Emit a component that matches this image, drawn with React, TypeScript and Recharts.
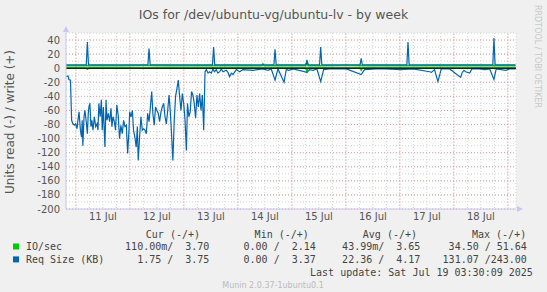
import React from "react";
import {
  ComposedChart,
  Line,
  XAxis,
  YAxis,
  CartesianGrid,
  ReferenceLine,
} from "recharts";

// hours since 11 Jul 00:00
const hourTicks = [0, 6, 12, 18, 24, 30, 36, 42, 48, 54, 60, 66, 72, 78, 84, 90, 96, 102, 108, 114, 120, 126, 132, 138, 144, 150, 156, 162, 168, 174, 180, 186, 192];
const dayTicks = [0, 24, 48, 72, 96, 120, 144, 168, 192];
const dayLabels = ["11 Jul", "12 Jul", "13 Jul", "14 Jul", "15 Jul", "16 Jul", "17 Jul", "18 Jul"];
const yTicks = [-200, -190, -180, -170, -160, -150, -140, -130, -120, -110, -100, -90, -80, -70, -60, -50, -40, -30, -20, -10, 0, 10, 20, 30, 40, 50];
const yMajor = [-200, -180, -160, -140, -120, -100, -80, -60, -40, -20, 20, 40];

// Req Size (KB), read side (drawn negative)
const reqReadHours = [
  -4.3, -3.5, -3.1, -2.4, -1.9, -1.3, -0.6, -0.1, 0.5, 0.9, 1.4, 2.0, 2.5, 2.8, 3.1, 3.6, 4.0, 4.6, 5.1, 5.5,
  5.8, 6.2, 6.7, 7.1, 7.6, 8.2, 8.8, 9.4, 9.8, 10.2, 10.8, 11.3, 11.7, 12.2, 12.9, 13.4, 13.8, 14.4, 15.0, 15.6,
  16.0, 16.5, 17.1, 17.6, 18.2, 18.8, 19.4, 20.0, 20.6, 21.2, 21.8, 22.4, 23.0, 23.6, 23.9, 24.5, 25.1, 25.6, 26.2, 26.8,
  27.3, 27.7, 28.3, 28.9, 29.5, 30.1, 30.7, 31.3, 31.9, 32.5, 33.1, 33.7, 34.2, 34.8, 35.4, 36.0, 36.6, 37.2, 37.8, 38.4,
  39.0, 39.6, 40.2, 40.8, 41.4, 42.0, 42.5, 43.1, 43.7, 44.3, 44.9, 45.5, 46.1, 46.7, 47.3, 47.9, 48.5, 49.1, 49.6, 50.2,
  50.8, 51.4, 52.0, 52.6, 53.2, 53.8, 54.4, 55.0, 55.6, 56.2, 56.8, 57.4, 58.0, 58.7, 59.4, 60.2, 60.9, 61.6, 62.4, 63.1,
  63.9, 64.6, 65.4, 66.8, 67.6, 68.3, 69.1, 69.8, 71.3, 72.8, 74.2, 78.7, 83.1, 85.4, 86.8, 88.5, 89.8, 92.5, 93.5, 94.7,
  96.5, 102.7, 103.9, 105.4, 107.1, 108.8, 110.1, 112.8, 120.2, 126.8, 128.3, 133.5, 137.9, 144.2, 149.8, 157.2, 158.0, 159.4, 160.9, 162.4,
  166.1, 171.0, 171.7, 172.5, 173.2, 175.0, 176.0, 179.4, 181.7, 183.9, 185.8, 186.8, 189.1, 191.0, 192.8, 195.4,
];
const reqReadValues = [
  -12, -11, -16, -17, -74, -79, -81, -79, -86, -74, -62, -88, -98, -74, -110, -69, -60, -76, -93, -64,
  -55, -50, -83, -74, -88, -69, -83, -79, -88, -50, -69, -45, -88, -55, -112, -45, -74, -64, -76, -57,
  -83, -69, -76, -88, -52, -67, -100, -81, -93, -74, -83, -81, -121, -88, -62, -69, -60, -88, -98, -112,
  -83, -131, -98, -69, -88, -86, -88, -93, -64, -76, -55, -33, -64, -81, -55, -60, -64, -76, -62, -55,
  -50, -69, -79, -60, -38, -64, -93, -131, -74, -40, -29, -17, -40, -60, -36, -50, -74, -117, -50, -69,
  -62, -33, -38, -50, -71, -38, -55, -36, -60, -38, -88, -5, -2, -7, -5, -7, -1, -5, -2, -7,
  -5, -1, -5, -3, -6, -12, -7, -9, -2, -5, -2, -3, -1, -3, -1, -17, -1, -20, -2, -3,
  -1, -6, -2, -3, -1, -19, -2, -1, -1, -9, -2, -1, -1, -2, -1, -5, -6, -2, -19, -1,
  -1, -13, -6, -3, -5, -7, -1, -1, -2, -1, -16, -1, -2, -3, -1, -1,
];

// Req Size (KB), write side
const reqWriteHours = [-4.4, 4.6, 5.1, 5.6, 32.0, 32.5, 33.0, 60.7, 61.2, 61.7, 88.0, 88.5, 89.0, 102.2, 102.7, 103.2, 108.3, 108.8, 109.3, 126.3, 126.8, 127.3, 147.1, 147.6, 148.1, 185.3, 185.8, 186.3, 195.4];
const reqWriteValues = [4.8, 4.8, 37, 4.8, 4.8, 28, 4.8, 4.8, 30, 4.8, 4.8, 27, 4.8, 4.8, 10, 4.8, 4.8, 30, 4.8, 4.8, 14, 4.8, 4.8, 37, 4.8, 4.8, 43, 4.8, 4.8];

// IO/sec
const ioWriteHours = [-4.4, 10, 20, 30, 40, 50, 60, 70, 80, 82.6, 83.1, 83.6, 90, 100, 102.2, 102.7, 103.2, 110, 120, 130, 140, 150, 160, 170, 180, 190, 195.4];
const ioWriteValues = [3.4, 3.6, 3.5, 3.8, 3.6, 3.5, 3.7, 3.6, 3.4, 3.5, 6, 3.5, 3.7, 3.6, 3.6, 11, 3.6, 3.5, 3.8, 3.6, 3.7, 3.5, 3.6, 3.7, 3.6, 3.7, 3.7];
const ioReadHours = [-4.4, 4.6, 5.1, 5.6, 102.2, 102.7, 103.2, 126.3, 126.8, 127.3, 195.4];
const ioReadValues = [0, 0, -1.5, 0, 0, -5, 0, 0, -3, 0, -0.1];

const toPoints = (hs: number[], vs: number[]) => hs.map((h, i) => ({ h, v: vs[i] }));

const legendRows = [
  { name: "IO/sec", color: "#00cc00", cur: "110.00m/  3.70", min: "0.00 /  2.14", avg: "43.99m/  3.65", max: "34.50 / 51.64" },
  { name: "Req Size (KB)", color: "#0066b3", cur: "1.75 /  3.75", min: "0.00 /  3.37", avg: "22.36 /  4.17", max: "131.07 /243.00" },
];

// keep runs of spaces in the monospace legend
const pre = (s: string) => s.replace(/ /g, "\u00a0");

const mono = "'DejaVu Sans Mono', monospace";
const sans = "'DejaVu Sans', sans-serif";

export default function App() {
  return (
    <div style={{ position: "absolute", left: 0, top: 0, width: 547, height: 292, background: "#f0f0f0" }}>
      <ComposedChart width={547} height={292} margin={{ top: 33, right: 31, bottom: 63, left: 0 }}>
        <CartesianGrid fill="#ffffff" stroke="#d4d4d4" strokeDasharray="1 2" />
        <XAxis
          dataKey="h"
          type="number"
          domain={[-4.4, 195.6]}
          ticks={hourTicks}
          interval={0}
          allowDataOverflow
          stroke="#c8c8f4"
          tickLine={false}
          tickSize={2}
          tickMargin={2}
          height={20}
          tick={{ fontSize: 10, fill: "#555", fontFamily: sans }}
          tickFormatter={(h: number) => (h % 24 === 12 ? dayLabels[(h - 12) / 24] : "")}
        />
        <YAxis
          type="number"
          domain={[-200, 50]}
          ticks={yTicks}
          interval={0}
          width={66}
          stroke="#c8c8f4"
          tickLine={false}
          tickSize={4}
          tickMargin={2}
          tick={{ fontSize: 10, fill: "#555", fontFamily: sans }}
          tickFormatter={(v: number) => (v % 20 === 0 && v < 50 ? String(v) : "")}
        />
        {dayTicks.map((d) => (
          <ReferenceLine key={"d" + d} x={d} stroke="#f4a0a0" strokeDasharray="1 2" />
        ))}
        {yMajor.map((y) => (
          <ReferenceLine key={"y" + y} y={y} stroke="#f4a0a0" strokeDasharray="1 2" />
        ))}
        <Line data={toPoints(ioReadHours, ioReadValues)} dataKey="v" stroke="#00cc00" strokeWidth={1.4} dot={false} isAnimationActive={false} />
        <Line data={toPoints(ioWriteHours, ioWriteValues)} dataKey="v" stroke="#00cc00" strokeWidth={1.6} dot={false} isAnimationActive={false} />
        <Line data={toPoints(reqReadHours, reqReadValues)} dataKey="v" stroke="#0066b3" strokeWidth={1.2} dot={false} isAnimationActive={false} />
        <Line data={toPoints(reqWriteHours, reqWriteValues)} dataKey="v" stroke="#0066b3" strokeWidth={1.2} dot={false} isAnimationActive={false} />
        <ReferenceLine y={0} stroke="#000" strokeWidth={1.2} />
      </ComposedChart>

      <svg width={547} height={292} style={{ position: "absolute", left: 0, top: 0, pointerEvents: "none" }}>
        <text x={273.5} y={18.5} textAnchor="middle" fontSize={12.5} fill="#555" fontFamily={sans}>
          IOs for /dev/ubuntu-vg/ubuntu-lv - by week
        </text>
        <text x={14} y={122} transform="rotate(-90 14 122)" textAnchor="middle" fontSize={12} fill="#555" fontFamily={sans}>
          Units read (-) / write (+)
        </text>
        <text x={535} y={5} transform="rotate(90 535 5)" fontSize={8} fill="#c8c8c8" fontFamily={sans}>
          RRDTOOL / TOBI OETIKER
        </text>
        {/* axis arrows */}
        <path d="M63 32 L66 26 L69 32 Z" fill="#c8c8f4" />
        <path d="M517 206 L523 209 L517 212 Z" fill="#c8c8f4" />

        <g fontFamily={mono} fontSize={10} fill="#444">
          <text x={200} y={237.5} textAnchor="end">{pre("Cur (-/+)")}</text>
          <text x={308.8} y={237.5} textAnchor="end">{pre("Min (-/+)")}</text>
          <text x={417} y={237.5} textAnchor="end">{pre("Avg (-/+)")}</text>
          <text x={526.2} y={237.5} textAnchor="end">{pre("Max (-/+)")}</text>
          {legendRows.map((r, i) => {
            const y = 250 + i * 12.9;
            return (
              <g key={r.name}>
                <rect x={13} y={y - 6.5} width={6} height={6} fill={r.color} />
                <text x={26} y={y}>{pre(r.name)}</text>
                <text x={209.4} y={y} textAnchor="end">{pre(r.cur)}</text>
                <text x={315.8} y={y} textAnchor="end">{pre(r.min)}</text>
                <text x={420.4} y={y} textAnchor="end">{pre(r.avg)}</text>
                <text x={526.9} y={y} textAnchor="end">{pre(r.max)}</text>
              </g>
            );
          })}
          <text x={532.8} y={275.5} textAnchor="end">{pre("Last update: Sat Jul 19 03:30:09 2025")}</text>
        </g>
        <text x={273} y={288} textAnchor="middle" fontSize={8} fill="#bbb" fontFamily={sans}>
          Munin 2.0.37-1ubuntu0.1
        </text>
      </svg>
    </div>
  );
}
